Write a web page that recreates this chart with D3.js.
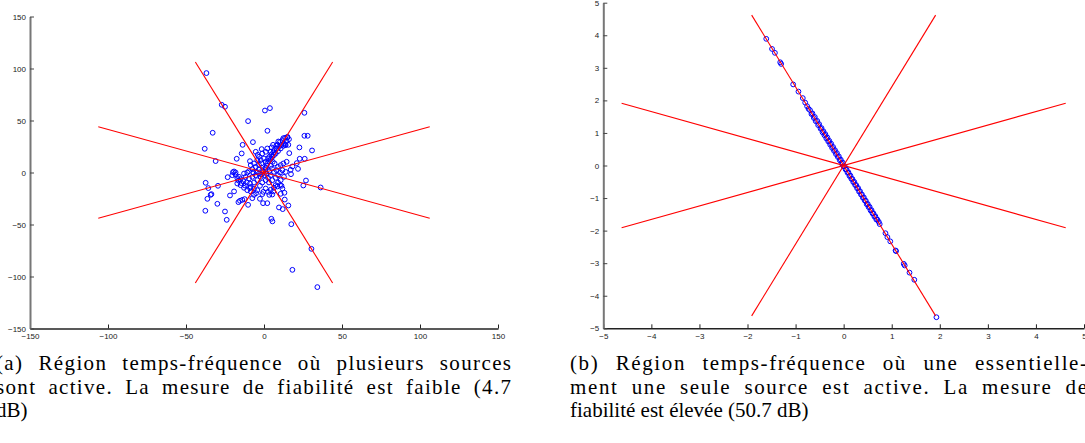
<!DOCTYPE html>
<html>
<head>
<meta charset="utf-8">
<script src="https://cdn.jsdelivr.net/npm/d3@7.9.0/dist/d3.min.js"></script>
<style>
  body { margin: 0; background: #fff; overflow: hidden; }
  .tick text { font-family: "Liberation Sans", Arial, sans-serif; font-size: 8px; fill: #222; }
  .caption { font-family: "Liberation Serif", "DejaVu Serif", serif; font-size: 21px; fill: #000; }
</style>
</head>
<body>
<svg id="fig" width="1085" height="443"></svg>
<script>
// --- data ---
const ticksA = [-150, -100, -50, 0, 50, 100, 150];
const ticksB = [-5, -4, -3, -2, -1, 0, 1, 2, 3, 4, 5];

// directions of the red lines (degrees) and their half-length
const lineAngles = [22.5, 67.5, 112.5, 157.5];
const lineRadiusA = 115;
const lineRadiusB = 5;

// (a) many sources active
const pointsA = [
  [-27.1,65.1],[-25,63.2],[0.6,59.6],[3.8,61.9],[-10.2,49.4],[25.9,57.4],[-32.9,38.2],[2.2,40.1],
  [25.9,35.3],[28,35.3],[-38,22.8],[-7.1,29.2],[-13.7,26.6],[-14.3,18.3],[-31,11],[-17.5,13.2],
  [-4.0,17],[-1.5,22.5],[4.9,24.1],[5.8,26.6],[7.9,25.7],[9.2,29.8],[12.4,33],[15,33.7],
  [13.5,26.6],[15.6,26.6],[22.7,24.1],[30.8,21.2],[16.2,18.6],[22.9,13.2],[26.1,13.2],[21,9],
  [18.2,5.8],[21.8,3.5],[17.1,2.6],[17.3,-1.6],[26.9,-7.7],[25.2,-12.5],[36.3,-14.4],[-37.4,-9.9],
  [-35.7,-15],[-29.5,-12.8],[-34.2,-21.5],[-36.3,-25.3],[-37.6,-36.8],[-29.9,-30.1],[-25,-37.5],[-23.9,-45.5],
  [-21.8,-22.1],[-19.2,-18.2],[-23.3,-4.5],[-19.9,0.3],[-18.2,-2.2],[-17.1,-5.4],[-16.4,-7.7],[-14.5,-10.2],
  [-12.2,-12.5],[-9,-15],[-8.5,-18.2],[-6.4,-21.5],[-5.1,-19.9],[-16.4,-28.5],[-15.4,-27.2],[-13.9,-26.3],
  [-12.4,-25.6],[-10.2,-31.1],[-7.5,-24.7],[-2.6,-25.3],[-0.6,-29.5],[2.1,-29.5],[-1.1,-20.8],[3.4,-21.5],
  [4.3,-16.6],[6,-18.2],[8.6,-13.4],[10.7,-20.5],[13.3,-26],[9.6,-33.6],[12,-35.2],[4.7,-44.5],
  [5.4,-47],[17.5,-49.7],[30.4,-73.4],[18.2,-93.6],[34.2,-110.2],[-36.9,95.6],[-33.7,-20.8],[15.6,-31.7],
  [-19.2,1],[11.2,-12.8],[13.1,-19.5],
  [10.3,29.5],[11.8,31.1],[13.5,33.3],[15.0,34.3],[12.8,27.9],[11.1,26.3],[9.6,24.7],[8.1,23.1],
  [9.0,20.5],[7.5,18.3],[6.4,16.7],[5.3,15.1],[4.3,12.8],[3.2,10.9],[2.1,8.7],[1.7,6.4],
  [0.9,4.5],[10.7,23.1],[12.4,25.6],[13.9,26.3],[8.5,26.9],[6.4,21.5],[6.0,19.2],[4.7,17.3],
  [3.4,15.1],[2.6,13.5],[14.5,30.1],[16.0,32.0],
  [-9.0,10.9],[-8.5,7.1],[-6.4,8.7],[-4.3,11.9],[-1.7,8.7],[-5.3,5.4],[-7.5,3.2],[-9.6,1.3],
  [-10.7,0],[-12.8,-1.0],[-11.8,-4.2],[-9.6,-5.8],[-7.5,-4.2],[-5.3,-2.6],[-3.2,-1.0],[-2.1,-4.2],
  [-4.3,-7.4],[-6.4,-9.6],[-9.0,-10.6],[-11.1,-9.6],[-13.2,-8.3],[-15.0,-6.4],[-16.0,-4.2],[-18.2,0],
  [-20.3,-2.6],[-17.1,-10.6],[-15.0,-12.2],[-12.8,-14.7],[-10.7,-17.0],[-8.5,-13.8],[-6.4,-15.4],[-4.3,-17.0],
  [-2.6,-12.8],[-1.1,-9.6],[1.1,-7.4],[3.2,-9.6],[5.3,-7.4],[7.5,-5.1],[9.0,-2.6],[10.3,0],
  [8.1,2.2],[6.4,0.6],[4.3,-2.6],[2.6,-5.1],[0.4,-2.6],[-1.1,2.2],[-3.2,3.2],[-4.7,0.6],[-6.8,0],
  [9.0,5.4],[10.7,7.1],[12.4,8.7],[14.5,10.3],[11.8,2.2],[13.9,0.6],[12.8,-4.2],[10.7,-7.4],
  [9.0,-9.6],[7.5,-12.2],[6.4,-14.7],[10.3,-12.2],[11.8,-15.4],[5.3,-21.2],[2.6,-18.6],[1.1,-15.4],[-0.4,-18.6],
  [-5.3,19.9],[-3.2,15.1],[-1.1,18.3],[1.1,19.9],[2.1,23.1],[4.3,19.9],[-2.1,11.9],[0,13.5],
  [1.1,10.3],[-3.2,7.1],[-0.4,1.3],[1.7,-1.3],[-1.7,-1.9],[1.1,3.2],[3.4,1.3],[5.1,3.8],
  [4.3,6.4],[6.8,8.7],[5.6,10.3]
];

// (b) essentially one source active
const pointsB = [
  [-1.61,3.89],[-1.49,3.58],[-1.43,3.46],[-1.32,3.17],[-1.30,3.12],[-1.05,2.49],[-0.94,2.27],[-0.85,2.07],
  [-0.80,1.93],[-0.76,1.82],[-0.73,1.74],[-0.70,1.70],[-0.67,1.58],[-0.65,1.60],[-0.62,1.46],[-0.60,1.49],
  [-0.58,1.36],[-0.55,1.37],[-0.53,1.24],[-0.51,1.27],[-0.48,1.13],[-0.46,1.15],[-0.44,1.02],[-0.42,1.05],
  [-0.40,0.93],[-0.38,0.96],[-0.36,0.83],[-0.34,0.86],[-0.32,0.74],[-0.30,0.76],[-0.28,0.64],[-0.26,0.67],
  [-0.24,0.54],[-0.22,0.57],[-0.20,0.45],[-0.18,0.47],[-0.16,0.35],[-0.14,0.38],[-0.12,0.26],[-0.10,0.28],
  [-0.08,0.16],[-0.06,0.18],[-0.04,0.06],[-0.02,0.09],[0.00,-0.03],[0.02,-0.02],[0.04,-0.12],[0.06,-0.12],
  [0.08,-0.22],[0.10,-0.21],[0.12,-0.32],[0.14,-0.31],[0.16,-0.41],[0.18,-0.41],[0.20,-0.51],[0.22,-0.50],
  [0.24,-0.60],[0.26,-0.60],[0.28,-0.70],[0.30,-0.69],[0.32,-0.80],[0.34,-0.79],[0.36,-0.89],[0.38,-0.89],
  [0.40,-0.99],[0.42,-0.98],[0.44,-1.08],[0.46,-1.08],[0.48,-1.19],[0.50,-1.18],[0.52,-1.28],[0.54,-1.27],
  [0.56,-1.38],[0.58,-1.37],[0.60,-1.47],[0.62,-1.47],[0.64,-1.57],[0.66,-1.56],[0.68,-1.66],[0.70,-1.66],
  [0.73,-1.73],[0.75,-1.80],
  [0.87,-2.08],[0.91,-2.20],[0.97,-2.33],[1.08,-2.61],[1.09,-2.63],[1.25,-3.02],[1.27,-3.07],[1.37,-3.29],
  [1.47,-3.51],[1.93,-4.66]
];

const captionA = [
  "(a) Région temps-fréquence où plusieurs sources",
  "sont active. La mesure de fiabilité est faible (4.7",
  "dB)"
];
const captionB = [
  "(b) Région temps-fréquence où une essentielle-",
  "ment une seule source est active. La mesure de",
  "fiabilité est élevée (50.7 dB)"
];

// --- drawing ---
const svg = d3.select('#fig');

function drawPanel(opts) {
  const x = d3.scaleLinear().domain(opts.domain).range(opts.xRange);
  const y = d3.scaleLinear().domain(opts.domain).range(opts.yRange);
  const g = svg.append('g');

  // axes (MATLAB style, ticks pointing inward, box off)
  const xAxis = g.append('g')
    .attr('transform', `translate(0,${opts.yRange[0]})`)
    .call(d3.axisBottom(x).tickValues(opts.ticks).tickSizeInner(-4).tickSizeOuter(0).tickPadding(5));
  xAxis.select('.domain').attr('stroke', '#222').attr('stroke-width', 1.4);
  xAxis.selectAll('.tick line').attr('stroke', '#222');

  const yAxis = g.append('g')
    .attr('transform', `translate(${opts.xRange[0]},0)`)
    .call(d3.axisLeft(y).tickValues(opts.ticks).tickSizeInner(-4).tickSizeOuter(0).tickPadding(4));
  yAxis.select('.domain').attr('stroke', '#777').attr('stroke-width', 2);
  yAxis.selectAll('.tick line').attr('stroke', '#444');

  // scatter
  g.append('g').selectAll('circle')
    .data(opts.points)
    .enter()
    .append('circle')
    .attr('cx', d => x(d[0]))
    .attr('cy', d => y(d[1]))
    .attr('r', 2.4)
    .attr('fill', 'none')
    .attr('stroke', '#0000ff')
    .attr('stroke-width', 1);

  // direction lines through the origin
  g.append('g').selectAll('line')
    .data(lineAngles)
    .enter()
    .append('line')
    .attr('x1', a => x(-opts.radius * Math.cos(a * Math.PI / 180)))
    .attr('y1', a => y(-opts.radius * Math.sin(a * Math.PI / 180)))
    .attr('x2', a => x(opts.radius * Math.cos(a * Math.PI / 180)))
    .attr('y2', a => y(opts.radius * Math.sin(a * Math.PI / 180)))
    .attr('stroke', '#ff0000')
    .attr('stroke-width', 1.1);
}

drawPanel({ domain: [-150, 150], xRange: [30, 498], yRange: [328.5, 16.5], ticks: ticksA, points: pointsA, radius: lineRadiusA });
drawPanel({ domain: [-5, 5], xRange: [603.3, 1084], yRange: [328.3, 2.7], ticks: ticksB, points: pointsB, radius: lineRadiusB });

// justified captions: stretch mostly letter spacing, a bit of word spacing
function drawCaption(lines, x0, width) {
  const baselines = [370, 393.5, 417];
  lines.forEach((line, i) => {
    const t = svg.append('text')
      .attr('class', 'caption')
      .attr('x', x0)
      .attr('y', baselines[i])
      .text(line);
    if (i < lines.length - 1) {
      const extra = width - t.node().getComputedTextLength();
      const gaps = line.split(' ').length - 1;
      t.style('letter-spacing', (0.6 * extra / (line.length - 1)) + 'px');
      t.style('word-spacing', (0.4 * extra / gaps) + 'px');
    }
  });
}

drawCaption(captionA, -4, 515);
drawCaption(captionB, 570, 517);
</script>
</body>
</html>
